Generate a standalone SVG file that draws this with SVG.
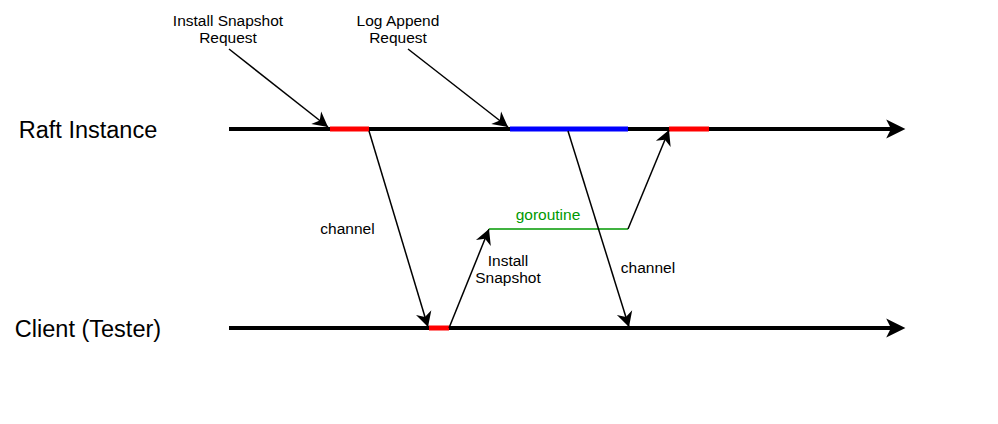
<svg xmlns="http://www.w3.org/2000/svg" width="998" height="424" viewBox="0 0 998 424">
<style>
.lbl{font-family:"Liberation Sans",Arial,Helvetica,sans-serif;fill:#000}
.big{font-size:23.5px}
.sm{font-size:15.5px}
.axis{stroke:#000;stroke-width:4;fill:none}
.seg{stroke-width:5;fill:none}
.thin{stroke:#000;stroke-width:1.5;fill:none}
</style>
<defs>
<marker id="bigArrow" markerUnits="userSpaceOnUse" markerWidth="40" markerHeight="40" viewBox="-30 -20 50 40" refX="0" refY="0" orient="auto" overflow="visible">
<path d="M13,0 L-11,-12 L-5,0 L-11,12 Z" fill="#000"/>
</marker>
<marker id="arrow" markerUnits="userSpaceOnUse" markerWidth="30" markerHeight="30" viewBox="-20 -15 30 30" refX="0" refY="0" orient="auto" overflow="visible">
<path d="M0,0 L-15,-8 L-10.5,0 L-15,8 Z" fill="#000"/>
</marker>
</defs>
<rect width="998" height="424" fill="#fff"/>
<g id="raft-instance">
<text class="lbl big" x="88" y="138" text-anchor="middle">Raft Instance</text>
<line class="axis" x1="229" y1="129" x2="895" y2="129" marker-end="url(#bigArrow)"/>
<line class="seg" x1="330" y1="129" x2="369" y2="129" stroke="#ff0000"/>
<line class="seg" x1="510" y1="129" x2="628" y2="129" stroke="#0000ff"/>
<line class="seg" x1="669" y1="129" x2="709" y2="129" stroke="#ff0000"/>
</g>
<g id="client-tester">
<text class="lbl big" x="88" y="337" text-anchor="middle">Client (Tester)</text>
<line class="axis" x1="229" y1="328" x2="895" y2="328" marker-end="url(#bigArrow)"/>
<line class="seg" x1="429" y1="328" x2="449" y2="328" stroke="#ff0000"/>
</g>
<g id="install-snapshot-request">
<text class="lbl sm" x="228" y="26" text-anchor="middle">Install Snapshot</text>
<text class="lbl sm" x="228" y="43" text-anchor="middle">Request</text>
</g>
<g id="log-append-request">
<text class="lbl sm" x="398" y="26" text-anchor="middle">Log Append</text>
<text class="lbl sm" x="398" y="43" text-anchor="middle">Request</text>
</g>
<g id="connectors">
<line class="thin" x1="229" y1="49" x2="328" y2="127" marker-end="url(#arrow)"/>
<line class="thin" x1="408" y1="49" x2="508" y2="127" marker-end="url(#arrow)"/>
<line class="thin" x1="369" y1="131" x2="428" y2="327" marker-end="url(#arrow)"/>
<line class="thin" x1="449" y1="328" x2="489" y2="229" marker-end="url(#arrow)"/>
<line x1="489" y1="229" x2="628" y2="229" stroke="#009900" stroke-width="1.5"/>
<line class="thin" x1="628" y1="229" x2="669" y2="130" marker-end="url(#arrow)"/>
<line class="thin" x1="568" y1="131" x2="629" y2="327" marker-end="url(#arrow)"/>
<text class="lbl sm" x="347.5" y="234" text-anchor="middle">channel</text>
<text class="lbl sm" x="548" y="220" text-anchor="middle" style="fill:#009900">goroutine</text>
<text class="lbl sm" x="508" y="266" text-anchor="middle">Install</text>
<text class="lbl sm" x="508" y="283" text-anchor="middle">Snapshot</text>
<text class="lbl sm" x="648" y="273" text-anchor="middle">channel</text>
</g>
</svg>
